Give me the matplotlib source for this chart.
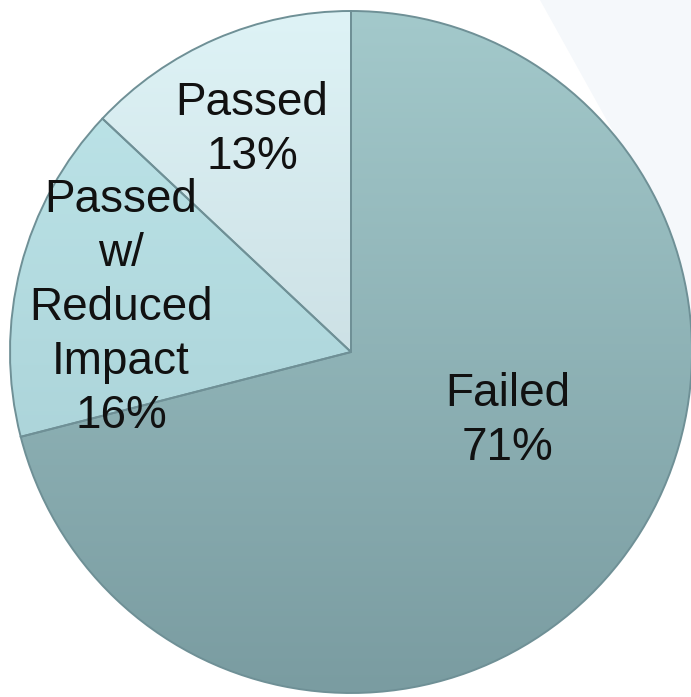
import numpy as np
import matplotlib
matplotlib.use("Agg")
import matplotlib.pyplot as plt
from matplotlib.patches import Polygon

# data
labels = ["Failed", "Passed w/\nReduced\nImpact", "Passed"]
shares = [71, 16, 13]
label_text = ["Failed\n71%", "Passed\nw/\nReduced\nImpact\n16%", "Passed\n13%"]

# top/bottom gradient colours per slice
grad_top = ["#a3c9cb", "#bfe6ea", "#def3f6"]
grad_bot = ["#7a9ca1", "#a2cbd1", "#bccfd5"]

W, H = 691, 697
cx, cy, R = 351, H - 352, 341

fig = plt.figure(figsize=(W / 100, H / 100), dpi=100)
ax = fig.add_axes([0, 0, 1, 1])
ax.set_xlim(0, W)
ax.set_ylim(0, H)
ax.set_aspect("equal")
ax.axis("off")

# faint background shape at the top right
ax.add_patch(Polygon([[540, H], [W, H], [W, H - 400], [640, H - 180]],
                     closed=True, facecolor="#f5f8fb", edgecolor="none", zorder=0))

wedges, _ = ax.pie(shares, startangle=90, counterclock=False,
                   center=(cx, cy), radius=R,
                   wedgeprops=dict(edgecolor="#6f9096", linewidth=1.4))

def hex2rgb(h):
    h = h.lstrip("#")
    return np.array([int(h[i:i + 2], 16) / 255 for i in (0, 2, 4)])

for w, top, bot in zip(wedges, grad_top, grad_bot):
    t = np.linspace(0, 1, 256)[:, None]
    img = hex2rgb(top)[None, :] * (1 - t) + hex2rgb(bot)[None, :] * t
    img = np.repeat(img[:, None, :], 2, axis=1)
    w.set_facecolor("none")
    im = ax.imshow(img, extent=(cx - R, cx + R, cy - R, cy + R),
                   origin="upper", aspect="auto", zorder=1)
    im.set_clip_path(w)
    w.set_zorder(2)

ax.set_xlim(0, W)
ax.set_ylim(0, H)

font = dict(family=["Liberation Sans", "DejaVu Sans"], fontsize=33,
            ha="center", va="center", color="#111111", linespacing=1.3, zorder=5)
pos = [(508, H - 421), (121, H - 308), (252, H - 130)]
for txt, (x, y) in zip(label_text, pos):
    ax.text(x, y, txt, **font)

fig.savefig("out.png", dpi=100)
